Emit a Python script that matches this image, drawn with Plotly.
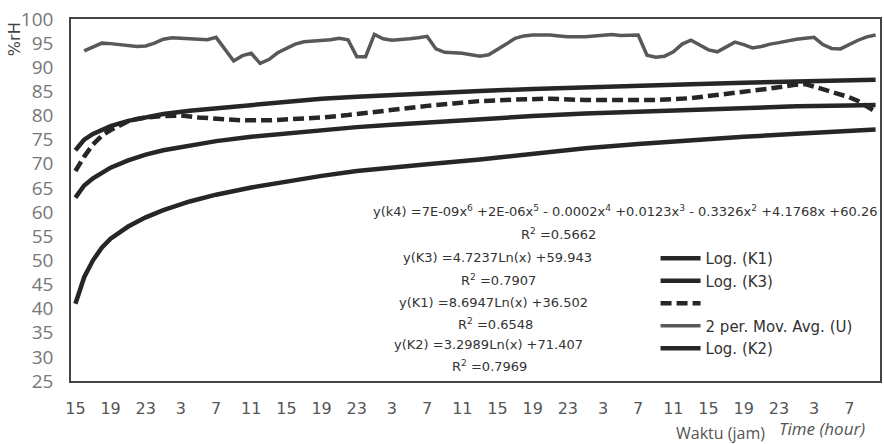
import plotly.graph_objects as go

# ---- data ----
hour_index = list(range(92))          # hourly categories, starting at 15:00
tick_labels = ["15", "19", "23", "3", "7", "11", "15", "19", "23", "3", "7", "11",
               "15", "19", "23", "3", "7", "11", "15", "19", "23", "3", "7"]
tick_index = list(range(0, 92, 4))

u_movavg = [None, 93.4, 94.3, 95.0, 94.9, 94.7, 94.5, 94.3, 94.4, 95.0,
            95.8, 96.1, 96.0, 95.9, 95.7, 95.7, 96.2, 93.6, 91.3, 92.4,
            92.9, 90.8, 91.6, 93.0, 94.0, 94.8, 95.3, 95.4, 95.6, 95.7,
            96.0, 95.7, 92.2, 92.2, 96.8, 95.9, 95.6, 95.7, 95.9, 96.1,
            96.4, 93.8, 93.1, 93.0, 92.9, 92.6, 92.3, 92.6, 93.6, 94.8,
            96.0, 96.5, 96.7, 96.7, 96.7, 96.5, 96.3, 96.3, 96.3, 96.5,
            96.7, 96.8, 96.6, 96.6, 96.7, 92.5, 92.1, 92.3, 93.2, 94.8,
            95.6, 94.6, 93.6, 93.2, 94.2, 95.2, 94.7, 94.0, 94.3, 94.8,
            95.1, 95.5, 95.8, 96.0, 96.2, 94.7, 93.9, 93.8, 94.7, 95.6,
            96.3, 96.7]

trend_index = [0, 1, 2, 3, 4, 6, 8, 10, 13, 16, 20, 24, 28, 32, 36, 40, 46, 52,
               58, 64, 70, 76, 82, 88, 91]
log_k2 = [72.8, 75.0, 76.2, 77.1, 77.8, 78.9, 79.7, 80.3, 81.0, 81.5, 82.2, 83.0,
          83.5, 83.9, 84.3, 84.6, 85.1, 85.5, 85.9, 86.2, 86.5, 86.8, 87.1, 87.3, 87.4]
log_k3 = [63.0, 65.5, 67.0, 68.2, 69.2, 70.7, 71.9, 72.8, 73.8, 74.7, 75.6, 76.3,
          77.0, 77.6, 78.1, 78.6, 79.3, 79.9, 80.4, 80.8, 81.2, 81.6, 81.9, 82.1, 82.2]
log_k1 = [41.0, 46.5, 50.0, 52.6, 54.5, 57.0, 58.9, 60.4, 62.2, 63.6, 65.1, 66.4,
          67.5, 68.5, 69.3, 69.9, 70.9, 72.1, 73.2, 74.1, 74.9, 75.6, 76.2, 76.8, 77.1]

poly_index = [0, 1, 2, 3, 4, 5, 6, 7, 8, 10, 12, 14, 16, 19, 22, 25, 28, 31, 34, 37,
              40, 43, 46, 50, 54, 58, 62, 66, 70, 73, 76, 79, 82, 83, 84, 85, 86,
              87, 88, 89, 90, 91]
poly_k4 = [68.5, 71.5, 74.0, 75.8, 77.0, 78.0, 78.8, 79.3, 79.6, 79.9, 80.0, 79.6,
           79.3, 79.0, 79.0, 79.2, 79.6, 80.1, 80.8, 81.4, 82.0, 82.5, 83.0, 83.3,
           83.5, 83.2, 83.1, 83.2, 83.6, 84.2, 84.9, 85.6, 86.4, 86.5, 86.0, 85.5,
           84.9, 84.3, 83.8, 83.0, 81.8, 80.8]

DARK = "#262626"

fig = go.Figure()
fig.add_trace(go.Scatter(x=trend_index, y=log_k1, mode="lines", name="Log. (K1)",
                         legendgroup="a", line=dict(color=DARK, width=4.5)))
fig.add_trace(go.Scatter(x=trend_index, y=log_k3, mode="lines", name="Log. (K3)",
                         legendgroup="b", line=dict(color=DARK, width=4.5)))
fig.add_trace(go.Scatter(x=poly_index, y=poly_k4, mode="lines", name=" ",
                         legendgroup="c", line=dict(color=DARK, width=4.5, dash="11px,5px")))
fig.add_trace(go.Scatter(x=hour_index, y=u_movavg, mode="lines",
                         name="2 per. Mov. Avg. (U)", legendgroup="d",
                         line=dict(color="#585858", width=3.5)))
fig.add_trace(go.Scatter(x=trend_index, y=log_k2, mode="lines", name="Log. (K2)",
                         legendgroup="e", line=dict(color=DARK, width=4.5)))

PL, PR, PT, PB = 71, 882, 19, 381


def px(xp):
    return (xp - PL) / (PR - PL)


def py(yp):
    return (PB - yp) / (PB - PT)


eq_font = dict(family="DejaVu Sans", size=13, color="#333333")
equations = [
    ("y(k4) =7E-09x<sup>6</sup> +2E-06x<sup>5</sup> - 0.0002x<sup>4</sup> +0.0123x<sup>3</sup>"
     " - 0.3326x<sup>2</sup> +4.1768x +60.26", 881, 211, "right"),
    ("R<sup>2</sup> =0.5662", 560, 234, "center"),
    ("y(K3) =4.7237Ln(x) +59.943", 499, 257, "center"),
    ("R<sup>2</sup> =0.7907", 500, 280, "center"),
    ("y(K1) =8.6947Ln(x) +36.502", 495, 302, "center"),
    ("R<sup>2</sup> =0.6548", 497, 324, "center"),
    ("y(K2) =3.2989Ln(x) +71.407", 490, 344, "center"),
    ("R<sup>2</sup> =0.7969", 491, 366, "center"),
]
for txt, xx, yy, anc in equations:
    fig.add_annotation(text=txt, x=px(xx), y=py(yy), xref="paper", yref="paper",
                       xanchor=anc, yanchor="middle", showarrow=False, font=eq_font)

fig.add_annotation(text="%rH", x=px(15), y=py(39), xref="paper", yref="paper",
                   textangle=-90, showarrow=False, xanchor="center", yanchor="middle",
                   font=dict(family="DejaVu Sans", size=16, color="#444444"))
fig.add_annotation(text="Waktu (jam)", x=px(722), y=py(433), xref="paper", yref="paper",
                   showarrow=False, xanchor="center", yanchor="middle",
                   font=dict(family="Open Sans", size=16, color="#555555"))
fig.add_annotation(text="<i>Time (hour)</i>", x=px(824), y=py(428), xref="paper",
                   yref="paper", showarrow=False, xanchor="center", yanchor="middle",
                   font=dict(family="Open Sans", size=17, color="#555555"))

fig.update_layout(
    width=884, height=444,
    margin=dict(l=PL, r=884 - PR, t=PT, b=444 - PB),
    paper_bgcolor="white", plot_bgcolor="white",
    showlegend=True,
    legend=dict(x=px(657), y=py(242), xanchor="left", yanchor="top",
                bgcolor="rgba(0,0,0,0)", tracegroupgap=6, traceorder="normal",
                font=dict(family="DejaVu Sans", size=15, color="#333333"),
                itemwidth=40),
)
fig.update_xaxes(range=[-0.5, 91.5], tickmode="array", tickvals=tick_index,
                 ticktext=tick_labels, showgrid=False, zeroline=False,
                 showline=True, mirror=True, linecolor="#444444", linewidth=1.5,
                 ticks="", ticklabelstandoff=12,
                 tickfont=dict(family="DejaVu Sans", size=16, color="#555555"))
fig.update_yaxes(range=[25, 100], dtick=5, tick0=25, showgrid=False, zeroline=False,
                 showline=True, mirror=True, linecolor="#444444", linewidth=1.5,
                 ticks="", ticklabelstandoff=12,
                 tickfont=dict(family="Open Sans", size=19, color="#777777"))

fig.write_html("out.html", config={"displayModeBar": False},
               post_script="document.body.style.margin='0px';")
